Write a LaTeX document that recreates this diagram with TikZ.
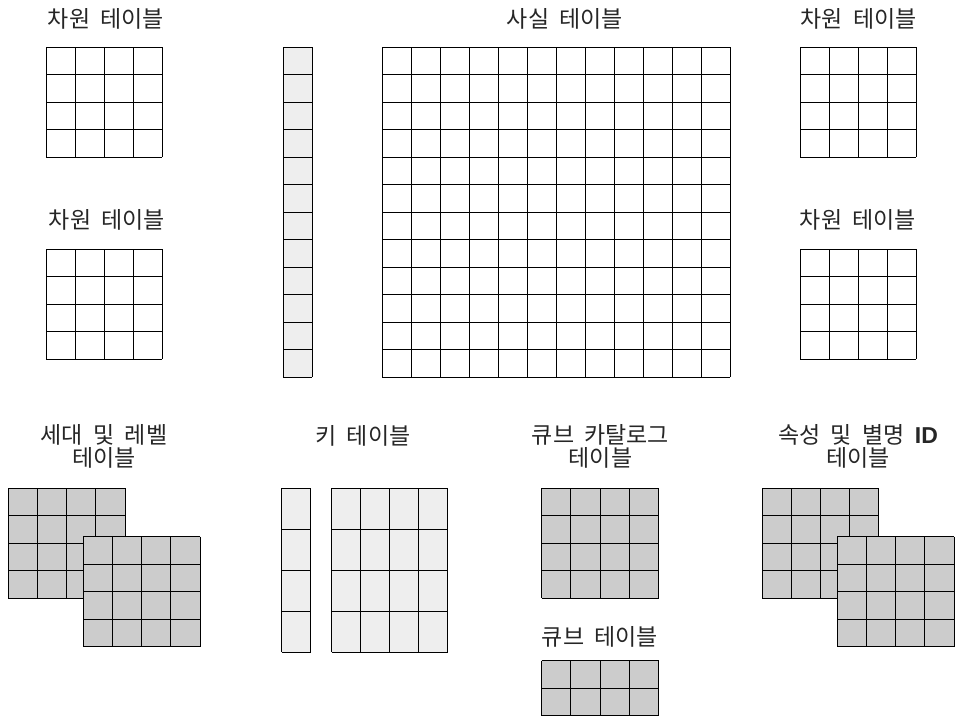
\documentclass[tikz,border=0pt]{standalone}
\usepackage{fontspec}
\setmainfont[WordSpace=2.0]{Noto Sans CJK KR}
\newfontfamily\latinbold{Liberation Sans}
\definecolor{lightcell}{HTML}{EEEEEE}
\definecolor{graycell}{HTML}{CCCCCC}
\tikzset{
  gl/.style={draw=black, line width=0.9pt},
  lbl/.style={anchor=base, inner sep=0pt, font=\fontsize{23}{23}\selectfont, align=center, text=black!85},
}
% x0 y0 cols rows cellwidth cellheight fill
\newcommand\tablegrid[7]{%
  \fill[#7] (#1,#2) rectangle ({#1+#3*#5},{#2+#4*#6});
  \foreach \i in {0,...,#3}{\draw[gl] ({#1+\i*#5},#2) -- ({#1+\i*#5},{#2+#4*#6});}
  \foreach \j in {0,...,#4}{\draw[gl] (#1,{#2+\j*#6}) -- ({#1+#3*#5},{#2+\j*#6});}
}
\begin{document}
\begin{tikzpicture}[x=1pt,y=-1pt]
\useasboundingbox (0,0) rectangle (959,718);
% labels
\node[lbl] (dimtl) at (106,27) {차원 테이블};
\node[lbl] (fact) at (565,27) {사실 테이블};
\node[lbl] (dimtr) at (858.5,27) {차원 테이블};
\node[lbl] (dimml) at (107,228.5) {차원 테이블};
\node[lbl] (dimmr) at (858,228.5) {차원 테이블};
\node[lbl] (gen) at (104,466.5) {세대 및 레벨\\테이블};
\node[lbl] (key) at (363,444) {키 테이블};
\node[lbl] (cat) at (600.5,466.5) {큐브 카탈로그\\테이블};
\node[lbl] (attr) at (858,466.5) {속성 및 별명 {\latinbold\bfseries ID}\\테이블};
\node[lbl] (cube) at (600,645.5) {큐브 테이블};
% top row grids
\tablegrid{46.3}{47.3}{4}{4}{29}{27.5}{white}
\tablegrid{46.3}{249.3}{4}{4}{29}{27.5}{white}
\tablegrid{283.3}{47.3}{1}{12}{29}{27.5}{lightcell}
\tablegrid{382.3}{47.3}{12}{12}{29}{27.5}{white}
\tablegrid{800}{47.3}{4}{4}{29}{27.5}{white}
\tablegrid{800}{249.3}{4}{4}{29}{27.5}{white}
% bottom row grids
\tablegrid{8.3}{488.3}{4}{4}{29.2}{27.5}{graycell}
\tablegrid{83.3}{536.7}{4}{4}{29.2}{27.5}{graycell}
\tablegrid{281.7}{488.3}{1}{4}{29}{41}{lightcell}
\tablegrid{331.7}{488.3}{4}{4}{29}{41}{lightcell}
\tablegrid{541.7}{488.3}{4}{4}{29.2}{27.5}{graycell}
\tablegrid{541.7}{660.7}{4}{2}{29.2}{27.5}{graycell}
\tablegrid{762.3}{488.3}{4}{4}{29.1}{27.5}{graycell}
\tablegrid{837.3}{536.7}{4}{4}{29.2}{27.5}{graycell}
\end{tikzpicture}
\end{document}
